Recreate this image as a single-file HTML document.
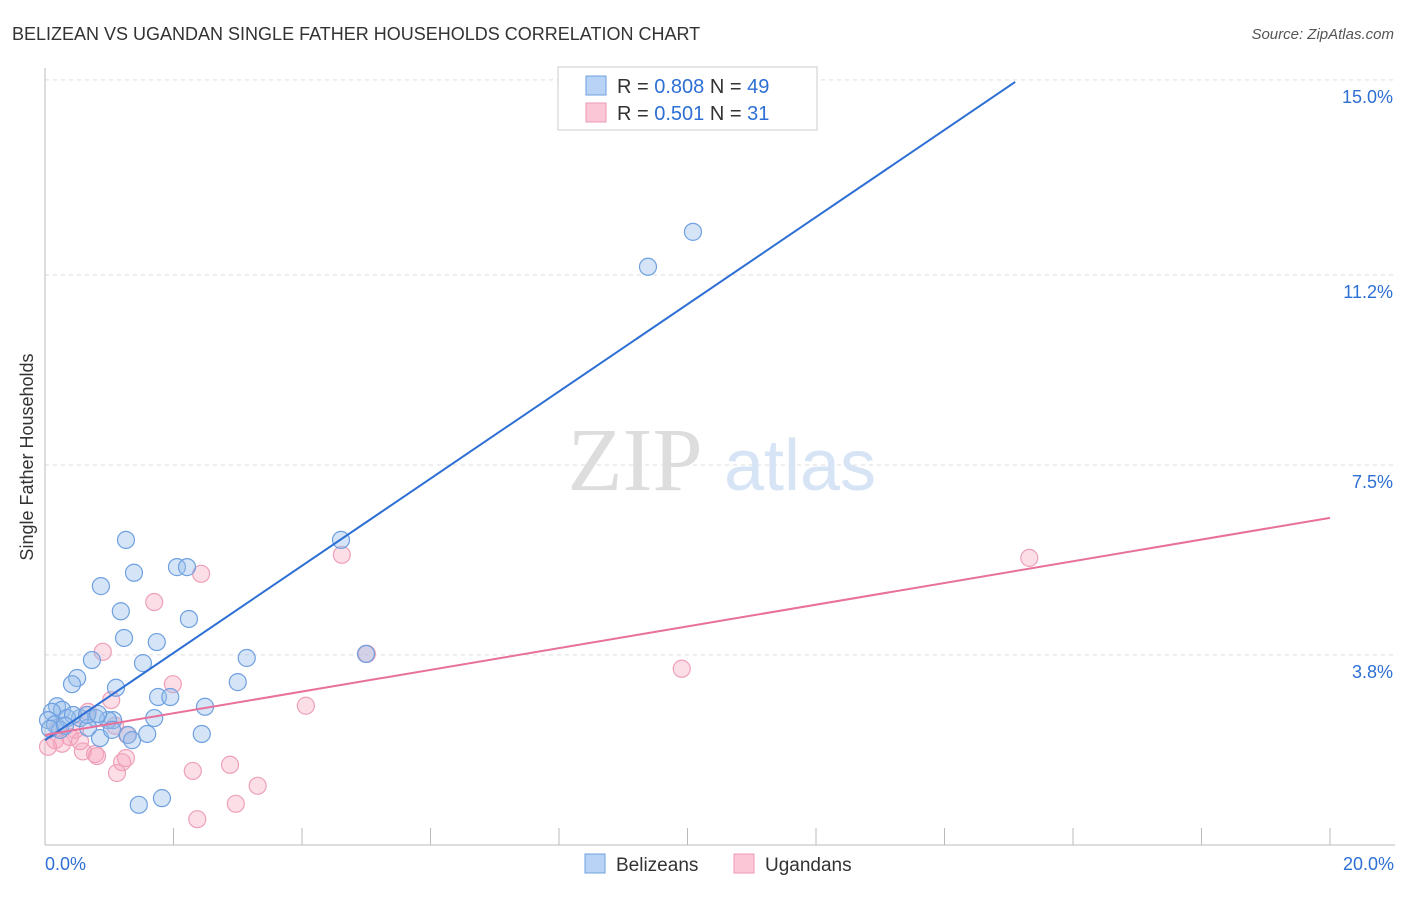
<!DOCTYPE html>
<html><head><meta charset="utf-8"><style>
body{margin:0;background:#fff;font-family:"Liberation Sans",sans-serif;}
</style></head><body>
<svg id="c" width="1406" height="892" xmlns="http://www.w3.org/2000/svg" style="font-family:'Liberation Sans',sans-serif">
<text x="12" y="40" font-size="18" fill="#333">BELIZEAN VS UGANDAN SINGLE FATHER HOUSEHOLDS CORRELATION CHART</text>
<text x="1394" y="39" font-size="15" fill="#555" text-anchor="end" font-style="italic">Source: ZipAtlas.com</text>
<text x="33" y="457" font-size="18" fill="#333" text-anchor="middle" transform="rotate(-90 33 457)">Single Father Households</text>
<g id="grid"></g>
<g><text x="635" y="490" font-size="90" fill="#ddd" font-family="Liberation Serif" text-anchor="middle">ZIP</text><text x="800" y="490" font-size="72" fill="#d6e4f5" text-anchor="middle">atlas</text></g>
<g id="pts"></g>
<g id="lines"></g>
<g>
<rect x="558" y="67" width="259" height="63" fill="#fff" stroke="#ccc"/>
<rect x="586" y="76" width="20" height="19" fill="#b8d3f5" stroke="#6fa0e0"/>
<rect x="586" y="103" width="20" height="19" fill="#fbc7d6" stroke="#ee9ab3"/>
<text x="617" y="93" font-size="20" fill="#333">R = <tspan fill="#2d6fd4">0.808</tspan>    N = <tspan fill="#2d6fd4">49</tspan></text>
<text x="617" y="120" font-size="20" fill="#333">R =  <tspan fill="#2d6fd4">0.501</tspan>    N =  <tspan fill="#2d6fd4">31</tspan></text>
</g>
<g>
<rect x="585" y="854" width="20" height="19" fill="#b8d3f5" stroke="#6fa0e0"/>
<text x="616" y="871" font-size="19" fill="#333">Belizeans</text>
<rect x="734" y="854" width="20" height="19" fill="#fbc7d6" stroke="#ee9ab3"/>
<text x="765" y="871" font-size="19" fill="#333">Ugandans</text>
</g>
</svg>
<script>
const yTicks=[15.0,11.2,7.5,3.8];
const yTickLabels=["15.0%","11.2%","7.5%","3.8%"];
const xTickLabels=["0.0%","20.0%"];
const blueX=[1.26,0.87,1.385,2.054,2.21,1.18,2.24,1.23,1.74,0.73,0.5,0.42,1.525,3.14,3.0,1.105,1.76,1.95,2.49,1.70,1.06,0.98,0.79,0.545,0.187,0.265,0.109,0.047,0.156,0.342,0.67,0.856,1.29,1.355,1.59,2.44,1.46,1.82,4.607,4.996,9.385,10.085,0.233,0.078,0.436,1.043,0.654,0.311,0.825];
const blueY=[6.04,5.14,5.40,5.51,5.51,4.65,4.50,4.13,4.05,3.70,3.35,3.23,3.64,3.74,3.27,3.16,2.98,2.98,2.79,2.57,2.53,2.53,2.57,2.57,2.80,2.73,2.69,2.53,2.45,2.57,2.38,2.18,2.24,2.14,2.26,2.26,0.88,1.01,6.04,3.82,11.36,12.04,2.34,2.36,2.63,2.34,2.63,2.42,2.65];
const pinkX=[4.62,2.43,1.70,0.90,1.99,1.03,4.06,5.01,9.91,15.32,0.67,1.09,1.28,0.59,0.78,0.81,1.20,1.12,1.26,2.30,2.88,3.31,2.97,2.37,0.156,0.047,0.389,0.265,0.467,0.202,0.545];
const pinkY=[5.75,5.38,4.83,3.86,3.23,2.92,2.81,3.82,3.53,5.69,2.69,2.42,2.24,1.92,1.87,1.83,1.71,1.50,1.79,1.54,1.66,1.25,0.90,0.60,2.14,2.01,2.20,2.07,2.34,2.38,2.12];
const blueFit=[2.14,0.849];
const pinkFit=[2.24,0.2115];
const NS="http://www.w3.org/2000/svg";
const X=v=>45+v*64.25, Y=v=>850-v*51.34;
function mk(t,a,p){const e=document.createElementNS(NS,t);for(const k in a)e.setAttribute(k,a[k]);p.appendChild(e);return e;}
const g=document.getElementById('grid');
yTicks.forEach((t,i)=>{
 const l=mk('line',{x1:45,x2:1395,y1:Y(t),y2:Y(t),stroke:'#ddd','stroke-dasharray':'4,4'},g);
 
 
 const tx=mk('text',{x:1393,y:Y(t)+23,'font-size':18,fill:'#2d6fd4','text-anchor':'end'},g);tx.textContent=yTickLabels[i];
 
 
});
const ax=mk('line',{x1:45,x2:45,y1:68,y2:845,stroke:'#bbb'},g);


const bx=mk('line',{x1:45,x2:1395,y1:845,y2:845,stroke:'#bbb'},g);


for(let i=1;i<=10;i++){const t=mk('line',{x1:X(i*2),x2:X(i*2),y1:828,y2:845,stroke:'#bbb'},g);
 
 }
[[0,'start',45],[1,'end',1394]].forEach(([i,a,x])=>{const t=mk('text',{x:x,y:870,'font-size':18,fill:'#2d6fd4','text-anchor':a},g);t.textContent=xTickLabels[i];
 
 });
const p=document.getElementById('pts');
pinkX.forEach((x,i)=>{const c=mk('circle',{cx:X(x),cy:Y(pinkY[i]),r:8.5,fill:'rgba(246,160,185,0.35)',stroke:'#eea0b8','stroke-width':1.2},p);
 
 });
blueX.forEach((x,i)=>{const c=mk('circle',{cx:X(x),cy:Y(blueY[i]),r:8.5,fill:'rgba(150,190,235,0.4)',stroke:'#6fa0e0','stroke-width':1.2},p);
 
 });
const L=document.getElementById('lines');
const b=mk('line',{x1:X(0),y1:Y(blueFit[0]),x2:X(15.1),y2:Y(blueFit[0]+blueFit[1]*15.1),stroke:'#2d6fd4','stroke-width':2},L);


const pk=mk('line',{x1:X(0),y1:Y(pinkFit[0]),x2:X(20),y2:Y(pinkFit[0]+pinkFit[1]*20),stroke:'#e8709a','stroke-width':2},L);


</script>
</body></html>
